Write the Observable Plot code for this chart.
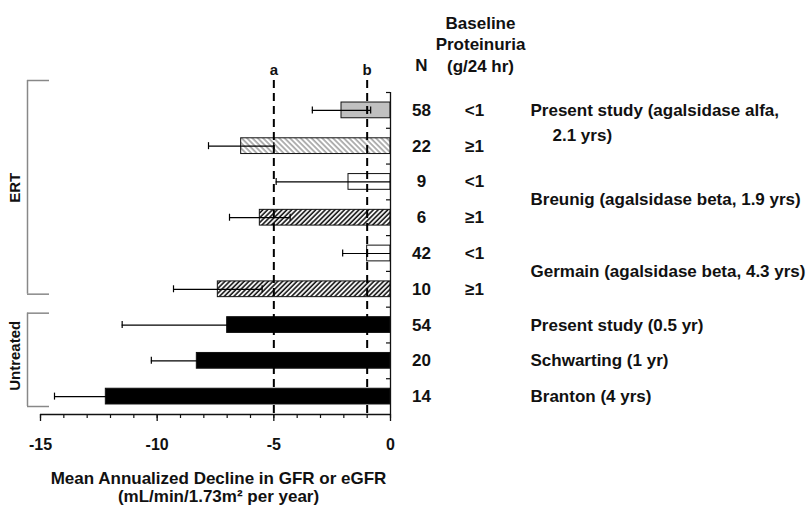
<!DOCTYPE html>
<html><head><meta charset="utf-8">
<script src="https://cdn.jsdelivr.net/npm/d3@7"></script>
<script src="https://cdn.jsdelivr.net/npm/@observablehq/plot@0.6"></script>
<style>
body{margin:0;background:#fff;}
#chart svg{font-family:"Liberation Sans",Arial,Helvetica,sans-serif;font-weight:bold;}
</style></head><body><div id="chart"></div>
<script>
// ---- data ----
const nValues = [58, 22, 9, 6, 42, 10, 54, 20, 14];
const proteinuria = ["<1", "≥1", "<1", "≥1", "<1", "≥1", "", "", ""];
const meanDecline = [-2.1, -6.4, -1.8, -5.6, -1.0, -7.4, -7.0, -8.3, -12.2];
const sdDecline = [1.25, 1.4, 3.1, 1.3, 1.05, 1.9, 4.5, 1.95, 2.2];
const fillKind = ["gray", "lightHatch", "white", "darkHatch", "white", "darkHatch", "black", "black", "black"];

const studyNames = ["Present study (agalsidase alfa,", "Breunig (agalsidase beta, 1.9 yrs)", "Germain (agalsidase beta, 4.3 yrs)", "Present study (0.5 yr)", "Schwarting (1 yr)", "Branton (4 yrs)"];
const studyContinued = ["2.1 yrs)", "", "", "", "", ""];
const studyFirstRow = [0, 2, 4, 6, 7, 8];
const studyLastRow = [1, 3, 5, 6, 7, 8];

const groupNames = ["ERT", "Untreated"];
const groupFirstRow = [0, 6];
const groupLastRow = [5, 8];

const refValues = [-5, -1];
const refLabels = ["a", "b"];
const xMajorTicks = [-15, -10, -5, 0];
const xMinorTicks = d3.range(-15, 1);
const axisTitle = "Mean Annualized Decline in GFR or eGFR\n(mL/min/1.73m² per year)";
const headerN = "N";
const headerProt = "Baseline\nProteinuria\n(g/24 hr)";

// ---- tables ----
const fills = {gray: "#c0c0c0", lightHatch: "url(#lightHatch)", white: "#ffffff", darkHatch: "url(#darkHatch)", black: "#000000"};
const rows = meanDecline.map((m, i) => ({
  i, mean: m, sd: sdDecline[i], n: nValues[i], prot: proteinuria[i],
  fill: fills[fillKind[i]],
  lo: m - sdDecline[i], hi: Math.min(0, m + sdDecline[i]), capHi: m + sdDecline[i] < 0
}));
const studies = studyNames.map((s, k) => ({label: s, cont: studyContinued[k], first: studyFirstRow[k], last: studyLastRow[k]}));
const groups = groupNames.map((g, k) => ({name: g, first: groupFirstRow[k], last: groupLastRow[k]}));
const boundaries = d3.range(-0.5, 8, 1);
const bh = 0.22;
const ink = "#111";

function bracket(g, topOff, bottomOff, labelDy) {
  return [
    Plot.ruleX([g], {x: -15, y1: d => d.first - 0.5, y2: d => d.last + 0.5, dx: -13, insetTop: topOff, insetBottom: bottomOff, stroke: "#888", strokeWidth: 1.5}),
    Plot.ruleY([g], {y: d => d.first - 0.5, x1: -15, x2: -15, dx: -13, dy: topOff, insetRight: -22, stroke: "#888", strokeWidth: 1.5}),
    Plot.ruleY([g], {y: d => d.last + 0.5, x1: -15, x2: -15, dx: -13, dy: -bottomOff, insetRight: -22, stroke: "#888", strokeWidth: 1.5}),
    Plot.text([g], {x: -15, y: d => (d.first + d.last) / 2, text: "name", rotate: -90, dx: -25, dy: labelDy, fontSize: 15, fill: ink})
  ];
}

const svg = Plot.plot({
  width: 808, height: 507,
  marginLeft: 40, marginRight: 418, marginTop: 92, marginBottom: 93,
  x: {domain: [-15, 0]},
  y: {domain: [8.5, -0.5], axis: null},
  color: {type: "identity"},
  style: {fontSize: "17px", color: ink, background: "white"},
  marks: [
    Plot.rectX(rows, {x1: "mean", x2: 0, y1: d => d.i - bh, y2: d => d.i + bh, fill: "fill", stroke: ink, strokeWidth: 1}),
    Plot.ruleY(rows, {y: "i", x1: "lo", x2: "hi", stroke: "#000", strokeWidth: 1.2}),
    Plot.ruleX(rows, {x: "lo", y1: "i", y2: "i", insetTop: -3.5, insetBottom: -3.5, stroke: "#000", strokeWidth: 1.2}),
    Plot.ruleX(rows.filter(d => d.capHi), {x: "hi", y1: "i", y2: "i", insetTop: -3.5, insetBottom: -3.5, stroke: "#000", strokeWidth: 1.2}),
    Plot.ruleX(refValues, {insetTop: -12, stroke: "#000", strokeWidth: 2, strokeDasharray: "8,5"}),
    Plot.text(refValues, {x: d => d, y: -0.5, text: (d, k) => refLabels[k], dy: -22, fontSize: 15, fill: ink}),
    // axes
    Plot.ruleX([0], {y1: -0.5, y2: 8.5, stroke: ink, strokeWidth: 1.3}),
    Plot.ruleY(boundaries, {y: d => d, x1: 0, x2: 0, insetLeft: -4, stroke: ink, strokeWidth: 1.2}),
    Plot.ruleY([8.5], {x1: -15, x2: 0, stroke: ink, strokeWidth: 1.3}),
    Plot.axisX({ticks: xMinorTicks, tickSize: 4, fill: "none", label: null, stroke: ink, strokeWidth: 1.2}),
    Plot.axisX({ticks: xMajorTicks, tickSize: 7, tickPadding: 17, tickFormat: d => String(d), label: null, fontSize: 16, stroke: ink, strokeWidth: 1.3, fill: ink}),
    Plot.text([axisTitle], {frameAnchor: "bottom", lineAnchor: "top", dx: 3, dy: 57, lineHeight: 1.05, fontSize: 17, fill: ink}),
    // right-hand columns
    Plot.text(rows, {x: 0, y: "i", text: d => String(d.n), dx: 31, fill: ink}),
    Plot.text(rows, {x: 0, y: "i", text: "prot", dx: 84, fill: ink}),
    Plot.text([headerN], {x: 0, y: -0.5, dx: 31, dy: -27, fill: ink}),
    Plot.text([headerProt], {x: 0, y: -0.5, dx: 90, dy: -49, lineHeight: 1.25, fill: ink}),
    Plot.text(studies, {x: 0, y: d => d.cont ? d.first : (d.first + d.last) / 2, text: "label", dx: 140, textAnchor: "start", fill: ink}),
    Plot.text(studies.filter(d => d.cont), {x: 0, y: "first", text: "cont", dx: 162, dy: 25, textAnchor: "start", fill: ink}),
    // group brackets
    ...bracket(groups[0], -12, 13, -12),
    ...bracket(groups[1], 6, 8, -5)
  ]
});

const defs = d3.select(svg).insert("defs", ":first-child");
const p1 = defs.append("pattern").attr("id", "lightHatch").attr("patternUnits", "userSpaceOnUse")
  .attr("width", 3.8).attr("height", 3.8).attr("patternTransform", "rotate(-45)");
p1.append("rect").attr("width", 3.8).attr("height", 3.8).attr("fill", "#fff");
p1.append("line").attr("x1", 1).attr("x2", 1).attr("y1", 0).attr("y2", 3.8).attr("stroke", "#8a8a8a").attr("stroke-width", 1.3);
const p2 = defs.append("pattern").attr("id", "darkHatch").attr("patternUnits", "userSpaceOnUse")
  .attr("width", 3.4).attr("height", 3.4).attr("patternTransform", "rotate(45)");
p2.append("rect").attr("width", 3.4).attr("height", 3.4).attr("fill", "#fff");
p2.append("line").attr("x1", 1).attr("x2", 1).attr("y1", 0).attr("y2", 3.4).attr("stroke", "#111").attr("stroke-width", 1.6);

document.getElementById("chart").appendChild(svg);
</script></body></html>
